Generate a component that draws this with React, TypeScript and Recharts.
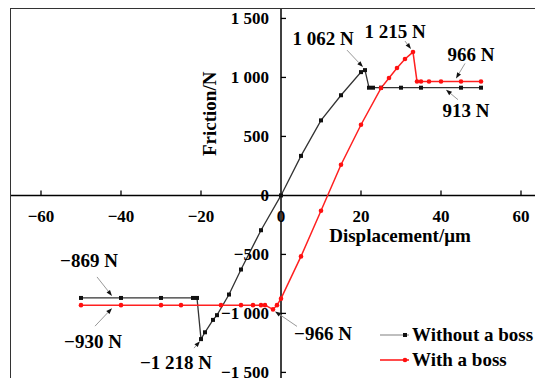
import React from 'react';
import { LineChart, Line, XAxis, YAxis, ReferenceLine, ReferenceDot, Legend } from 'recharts';

const FONT = "'Liberation Serif', 'Times New Roman', serif";

// displacement (µm) / friction (N)
const withoutBossX = [-50, -40, -30, -22, -21, -20, -19, -17, -16, -13, -10, -5, 0, 5, 10, 15, 20, 21, 22, 23, 25, 30, 35, 45, 50];
const withoutBossY = [-869, -869, -869, -869, -869, -1218, -1160, -1055, -1015, -840, -628, -295, 0, 335, 636, 849, 1045, 1062, 913, 913, 913, 913, 913, 913, 913];
const withBossX = [-50, -40, -30, -25, -15, -10, -7, -5, -4, -2, -1, 0, 5, 10, 15, 20, 25, 27, 29, 31, 33, 34, 35, 37, 40, 45, 50];
const withBossY = [-930, -930, -930, -930, -930, -930, -930, -930, -930, -966, -930, -875, -517, -130, 260, 599, 910, 995, 1080, 1156, 1215, 966, 966, 966, 966, 966, 966];

const xTicks = [-60, -40, -20, 0, 20, 40, 60];
const yTicks = [-1500, -1000, -500, 0, 500, 1000, 1500];

const seriesNames = ['Without a boss', 'With a boss'];

// callouts: label text, the point it marks, and pixel offsets for text / arrow
const callouts = [
  { text: '1 062 N', x: 21, y: 1062, tx: -42, ty: -32, sx: -18, sy: -20, ex: -2, ey: -3 },
  { text: '1 215 N', x: 33, y: 1215, tx: -18, ty: -21, sx: -8, sy: -11, ex: -2, ey: -3 },
  { text: '966 N', x: 43.5, y: 966, tx: 16, ty: -27, sx: 10, sy: -18, ex: 1, ey: -3 },
  { text: '913 N', x: 41, y: 913, tx: 21, ty: 23, sx: 13, sy: 12, ex: 1, ey: 2 },
  { text: '\u2212869 N', x: -42, y: -869, tx: -24, ty: -37, sx: -16, sy: -21, ex: -1, ey: -2 },
  { text: '\u2212930 N', x: -42, y: -930, tx: -20, ty: 36, sx: -18, sy: 21, ex: -1, ey: 3 },
  { text: '\u22121 218 N', x: -20, y: -1218, tx: -25, ty: 23, sx: -7, sy: 9, ex: -1, ey: 2 },
  { text: '\u2212966 N', x: -2, y: -966, tx: 50, ty: 24, sx: 24, sy: 17, ex: 2, ey: 2 },
];

const toRows = (xs: number[], ys: number[]) => xs.map((x, i) => ({ x, y: ys[i] }));
const withoutBoss = toRows(withoutBossX, withoutBossY);
const withBoss = toRows(withBossX, withBossY);

const fmt = (v: number) => {
  const s = Math.abs(v).toString().replace(/\B(?=(\d{3})+(?!\d))/g, ' ');
  return v < 0 ? '\u2212' + s : s;
};

const SquareDot = (p: any) => (
  <rect key={p.index} x={p.cx - 2} y={p.cy - 2} width={4} height={4} fill="#111" />
);
const RoundDot = (p: any) => <circle key={p.index} cx={p.cx} cy={p.cy} r={2.3} fill="#ff1010" />;

const XTick = (v: number) => (p: any) => (
  <g>
    {v !== 0 && <line x1={p.cx} y1={p.cy} x2={p.cx} y2={p.cy - 5} stroke="#000" strokeWidth={1.3} />}
    <text x={p.cx} y={p.cy + 27} textAnchor="middle" fontFamily={FONT} fontWeight="bold" fontSize={17} fill="#000">
      {fmt(v)}
    </text>
  </g>
);

const YTick = (v: number) => (p: any) => (
  <g>
    {v !== 0 && <line x1={p.cx} y1={p.cy} x2={p.cx + 5} y2={p.cy} stroke="#000" strokeWidth={1.3} />}
    <text x={p.cx - 12} y={p.cy + 6} textAnchor="end" fontFamily={FONT} fontWeight="bold" fontSize={17} fill="#000">
      {fmt(v)}
    </text>
  </g>
);

const Callout = (c: typeof callouts[number]) => (p: any) => {
  const x1 = p.cx + c.sx, y1 = p.cy + c.sy, x2 = p.cx + c.ex, y2 = p.cy + c.ey;
  const a = Math.atan2(y2 - y1, x2 - x1);
  const bx = x2 - 6 * Math.cos(a), by = y2 - 6 * Math.sin(a);
  const w = 2.2;
  return (
    <g>
      <line x1={x1} y1={y1} x2={bx} y2={by} stroke="#999" strokeWidth={1} />
      <polygon
        points={`${x2},${y2} ${bx + w * Math.sin(a)},${by - w * Math.cos(a)} ${bx - w * Math.sin(a)},${by + w * Math.cos(a)}`}
        fill="#111"
      />
      <text x={p.cx + c.tx} y={p.cy + c.ty + 6.5} textAnchor="middle" fontFamily={FONT} fontWeight="bold" fontSize={19} fill="#000">
        {c.text}
      </text>
    </g>
  );
};

const LegendBox = () => (
  <div style={{ fontFamily: FONT, fontWeight: 'bold', fontSize: 19, color: '#000', lineHeight: '25px', whiteSpace: 'nowrap' }}>
    {seriesNames.map((name, i) => (
      <div key={name} style={{ display: 'flex', alignItems: 'center', height: 25 }}>
        <svg width={29} height={10}>
          <line x1={0} y1={5} x2={29} y2={5} stroke={i === 0 ? '#aaa' : '#ff1010'} strokeWidth={1.5} />
          {i === 0 ? <rect x={23} y={3} width={4} height={4} fill="#111" /> : <circle cx={25} cy={5} r={2.3} fill="#ff1010" />}
        </svg>
        <span style={{ marginLeft: 3 }}>{name}</span>
      </div>
    ))}
  </div>
);

export default function App() {
  return (
    <div style={{ position: 'fixed', left: 0, top: 0, width: 535, height: 378, overflow: 'hidden', background: '#fff' }}>
      <div style={{ position: 'absolute', left: 10, top: 8, width: 600, height: 420, border: '1.5px solid #333' }} />
      <div style={{ position: 'absolute', left: 11, top: 9 }}>
        <LineChart width={550} height={387} margin={{ top: 0, right: 0, bottom: 0, left: 0 }}>
          <XAxis type="number" dataKey="x" hide domain={[-67.5, 70]} allowDataOverflow />
          <YAxis type="number" dataKey="y" hide domain={[-1700, 1580]} allowDataOverflow />
          <ReferenceLine x={0} stroke="#000" strokeWidth={1.5} />
          <ReferenceLine y={0} stroke="#000" strokeWidth={1.5} />
          {xTicks.map((v) => (
            <ReferenceDot key={'xt' + v} x={v} y={0} r={0} shape={XTick(v)} />
          ))}
          {yTicks.map((v) => (
            <ReferenceDot key={'yt' + v} x={0} y={v} r={0} shape={YTick(v)} />
          ))}
          <ReferenceDot
            x={0}
            y={700}
            r={0}
            shape={(p: any) => (
              <text
                transform={`translate(${p.cx - 65},${p.cy + 1}) rotate(-90)`}
                textAnchor="middle"
                fontFamily={FONT}
                fontWeight="bold"
                fontSize={19}
                fill="#000"
              >
                Friction/N
              </text>
            )}
          />
          <ReferenceDot
            x={30}
            y={0}
            r={0}
            shape={(p: any) => (
              <text x={p.cx - 1} y={p.cy + 47} textAnchor="middle" fontFamily={FONT} fontWeight="bold" fontSize={19} fill="#000">
                Displacement/μm
              </text>
            )}
          />
          <Line
            data={withoutBoss}
            dataKey="y"
            name={seriesNames[0]}
            stroke="#333"
            strokeWidth={1.3}
            dot={SquareDot}
            activeDot={false}
            isAnimationActive={false}
          />
          <Line
            data={withBoss}
            dataKey="y"
            name={seriesNames[1]}
            stroke="#ff2020"
            strokeWidth={1.5}
            dot={RoundDot}
            activeDot={false}
            isAnimationActive={false}
          />
          {callouts.map((c) => (
            <ReferenceDot key={c.text} x={c.x} y={c.y} r={0} shape={Callout(c)} />
          ))}
          <Legend
            layout="horizontal"
            verticalAlign="middle"
            align="center"
            wrapperStyle={{ left: 369, top: 313, width: 220 }}
            content={() => <LegendBox />}
          />
        </LineChart>
      </div>
    </div>
  );
}
